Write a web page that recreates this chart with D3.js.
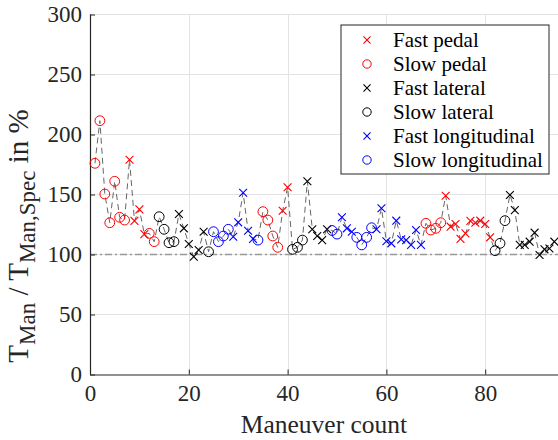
<!DOCTYPE html>
<html><head><meta charset="utf-8">
<script src="https://cdn.jsdelivr.net/npm/d3@7"></script>
<style>body{margin:0;background:#fff}</style>
</head><body>
<svg id="c" width="558" height="440"></svg>
<script>
// ---- data ----
const counts = d3.range(1, 95);
const values = [176,211.5,150.4,126.5,161,131,128.7,179,128,137.6,
117,117.6,110.7,131.5,121,109.8,110.7,133.7,121.8,108.7,
98.2,103.7,119,102.3,119,110.7,115.4,121,114.8,126.8,
151.5,119.8,113,112,135.7,128.7,115.4,106,136.5,156,
104.3,106,112,161,121,115.4,112,121,120,117,
131,121.8,119,114.3,108,114.3,122.3,121,138.5,111,
109.3,128.2,112.6,112,108,120.4,108,126,120.4,121.8,
126.5,149,123.2,125.4,113,117.6,128,126.5,128.2,125.4,
114.3,103.2,109.3,128.2,149.6,137,108,108,110.7,118.2,
99.6,104.3,105,110.7];
// maneuver type per point: FP fast pedal, SP slow pedal, FL fast lateral, SL slow lateral, FG fast longitudinal, SG slow longitudinal
const types = [].concat(
  Array(7).fill("SP"), Array(4).fill("FP"), Array(2).fill("SP"), Array(4).fill("SL"),
  Array(6).fill("FL"), ["SL"], Array(4).fill("SG"), Array(5).fill("FG"), ["SG"],
  Array(4).fill("SP"), Array(2).fill("FP"), Array(3).fill("SL"), Array(5).fill("FL"),
  Array(2).fill("SG"), Array(3).fill("FG"), Array(4).fill("SG"), Array(10).fill("FG"),
  Array(4).fill("SP"), Array(10).fill("FP"), Array(3).fill("SL"), Array(10).fill("FL"));
const legendKeys = ["FP","SP","FL","SL","FG","SG"];
const legendLabels = ["Fast pedal","Slow pedal","Fast lateral","Slow lateral","Fast longitudinal","Slow longitudinal"];
const xTicks = [0,20,40,60,80];
const yTicks = [0,50,100,150,200,250,300];
const refValue = 100;

// ---- styles ----
const FONT = "Liberation Serif";
const colorOf = {FP:"#ff0000",SP:"#ff0000",FL:"#000000",SL:"#000000",FG:"#0000ff",SG:"#0000ff"};
const shapeOf = {FP:"x",SP:"o",FL:"x",SL:"o",FG:"x",SG:"o"};

const svg = d3.select("#c");
const x = d3.scaleLinear().domain([0,100]).range([90, 90 + 4.94*100]);
const y = d3.scaleLinear().domain([0,300]).range([374.5, 14.5]);
const L = 90, R = 558, T = 14.5, B = 374.5;

// grid
const g = svg.append("g");
g.selectAll(".gx").data(xTicks.filter(d=>d>0)).join("line")
  .attr("x1",d=>Math.round(x(d))+0.5).attr("x2",d=>Math.round(x(d))+0.5)
  .attr("y1",T).attr("y2",B).attr("stroke","#e3e3e3").attr("stroke-width",1);
g.selectAll(".gy").data(yTicks.filter(d=>d>0)).join("line")
  .attr("x1",L).attr("x2",R).attr("y1",d=>y(d)).attr("y2",d=>y(d))
  .attr("stroke","#e3e3e3").attr("stroke-width",1);

// reference line
svg.append("line").attr("x1",L).attr("x2",R).attr("y1",y(refValue)).attr("y2",y(refValue))
  .attr("stroke","#999").attr("stroke-width",1.3).attr("stroke-dasharray","7,3,2,3");

// axes
const xAxis = d3.axisBottom(x).tickValues(xTicks).tickSize(-5).tickPadding(10).tickFormat(d3.format("d"));
const yAxis = d3.axisLeft(y).tickValues(yTicks).tickSize(-5).tickPadding(8).tickFormat(d3.format("d"));
const ax = svg.append("g").attr("transform",`translate(0,${B})`).call(xAxis);
ax.select(".domain").attr("d",`M${L},0.5H${R+5}`);
const ay = svg.append("g").attr("transform",`translate(${L},0)`).call(yAxis);
ay.select(".domain").attr("d",`M0.5,${B}V${T}`);
[ax,ay].forEach(a=>{
  a.attr("font-family",FONT).attr("font-size",23);
  a.selectAll(".domain").attr("stroke","#262626").attr("stroke-width",1.2);
  a.selectAll(".tick line").attr("stroke","#262626");
  a.selectAll("text").attr("fill","#262626");
});

// dashed connecting line
const line = d3.line().x((d,i)=>x(counts[i])).y(d=>y(d));
svg.append("path").attr("d",line(values)).attr("fill","none")
  .attr("stroke","#666").attr("stroke-width",1).attr("stroke-dasharray","6,4");

// markers
function drawMarker(sel, key, cx, cy, s){
  if(shapeOf[key]==="o"){
    sel.append("circle").attr("cx",cx).attr("cy",cy).attr("r",s)
      .attr("fill","none").attr("stroke",colorOf[key]).attr("stroke-width",1);
  } else {
    const h = s*0.8;
    sel.append("path").attr("d",`M${cx-h},${cy-h}L${cx+h},${cy+h}M${cx-h},${cy+h}L${cx+h},${cy-h}`)
      .attr("stroke",colorOf[key]).attr("stroke-width",1.1).attr("fill","none");
  }
}
const mg = svg.append("g");
values.forEach((v,i)=>drawMarker(mg, types[i], x(counts[i]), y(v), 4.9));

// legend
const lg = svg.append("g").attr("font-family",FONT);
lg.append("rect").attr("x",341).attr("y",25).attr("width",208).attr("height",149)
  .attr("fill","#fff").attr("stroke","#262626").attr("stroke-width",1);
legendKeys.forEach((k,i)=>{
  const cy = 40 + i*24;
  drawMarker(lg, k, 367, cy, shapeOf[k]==="o"?4.2:4.4);
  lg.append("text").attr("x",393).attr("y",cy+7).text(legendLabels[i])
    .attr("font-size",21).attr("fill","#000");
});

// axis labels
svg.append("text").attr("x",324).attr("y",433).attr("text-anchor","middle")
  .attr("font-family",FONT).attr("font-size",25.5).attr("fill","#262626").text("Maneuver count");
const yl = svg.append("text").attr("transform","translate(28,236) rotate(-90)")
  .attr("text-anchor","middle").attr("font-family",FONT).attr("font-size",29).attr("fill","#262626");
yl.append("tspan").text("T");
yl.append("tspan").attr("dy",7).attr("font-size",23).text("Man");
yl.append("tspan").attr("dy",-7).text(" / T");
yl.append("tspan").attr("dy",7).attr("font-size",23).text("Man,Spec");
yl.append("tspan").attr("dy",-7).text(" in %");
</script>
</body></html>
